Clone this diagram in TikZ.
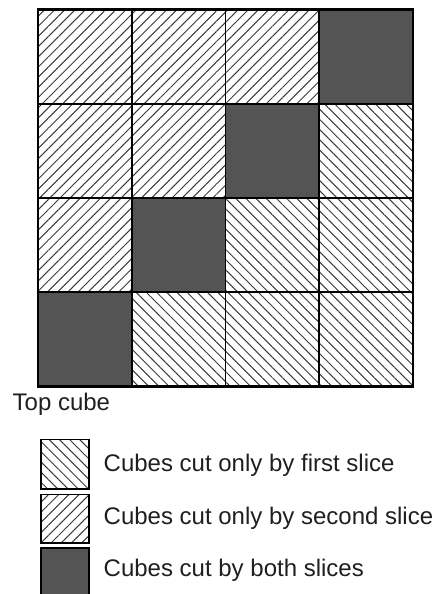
\documentclass[tikz,border=0pt]{standalone}
\usepackage{fontspec}
\setmainfont{Liberation Sans}
\usetikzlibrary{patterns.meta}
\definecolor{darkfill}{HTML}{545454}
\definecolor{hatchcol}{HTML}{3A3A3A}
\tikzset{
  firstcut/.style={pattern={Lines[angle=-45,distance=7.2pt,line width=1pt]},pattern color=hatchcol},
  secondcut/.style={pattern={Lines[angle=45,distance=7.2pt,line width=1pt]},pattern color=hatchcol},
  bothcut/.style={fill=darkfill},
  cellline/.style={draw=black,line width=1.6pt},
  label/.style={inner sep=0pt,font=\fontsize{24}{28}\selectfont,text=black!88}
}
\begin{document}
\begin{tikzpicture}[x=1pt,y=-1pt]
\useasboundingbox (0,0) rectangle (437,594);
% grid of cells
\foreach \r in {0,1,2,3}{
  \foreach \c in {0,1,2,3}{
    \pgfmathtruncatemacro{\s}{\r+\c}
    \ifnum\s<3
      \path[secondcut] (38+\c*93.75,9.5+\r*94.25) rectangle ++(93.75,94.25);
    \else\ifnum\s=3
      \path[bothcut] (38+\c*93.75,9.5+\r*94.25) rectangle ++(93.75,94.25);
    \else
      \path[firstcut] (38+\c*93.75,9.5+\r*94.25) rectangle ++(93.75,94.25);
    \fi\fi
    \draw[cellline] (38+\c*93.75,9.5+\r*94.25) rectangle ++(93.75,94.25);
  }
}
\draw[line width=2.2pt] (38,9.5) rectangle (413,386.5);
\node[label,anchor=base west] (top) at (12.5,410) {Top cube};
% legend
\draw[firstcut,line width=1.6pt] (41,439.5) rectangle (89,489);
\draw[secondcut,line width=1.6pt] (41,494.5) rectangle (89,543);
\draw[bothcut,draw=black,line width=1.6pt] (41,548) rectangle (89,595);
\node[label,anchor=base west] (l1) at (103.5,471.5) {Cubes cut only by first slice};
\node[label,anchor=base west] (l2) at (103.5,524) {Cubes cut only by second slice};
\node[label,anchor=base west] (l3) at (103.5,576.5) {Cubes cut by both slices};
\end{tikzpicture}
\end{document}
